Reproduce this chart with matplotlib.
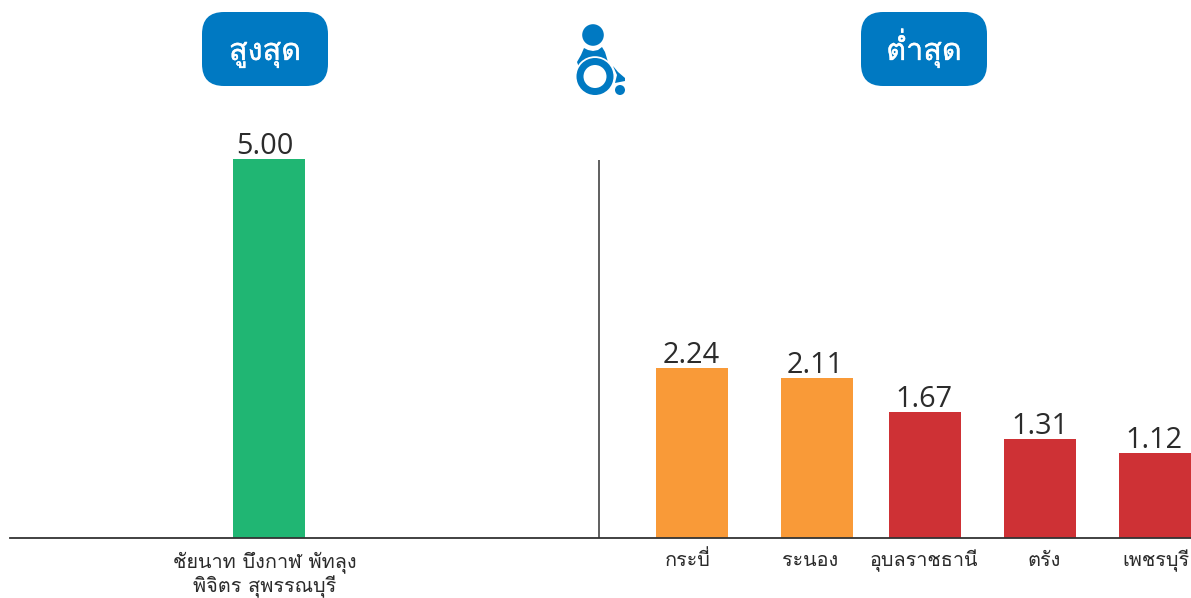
import matplotlib
matplotlib.use("Agg")
from matplotlib import pyplot as plt
from matplotlib import patheffects as pe
from matplotlib.patches import Circle, FancyBboxPatch, Polygon, Wedge

plt.rcParams['font.family'] = ['Loma', 'DejaVu Sans']

# ค่าดัชนีของแต่ละจังหวัด
high_labels = ["ชัยนาท บึงกาฬ พัทลุง\nพิจิตร สุพรรณบุรี"]
high_values = [5.00]
low_labels = ["กระบี่", "ระนอง", "อุบลราชธานี", "ตรัง", "เพชรบุรี"]
low_values = [2.24, 2.11, 1.67, 1.31, 1.12]

GREEN = "#20B673"
ORANGE = "#F99A38"
RED = "#CE3135"
BLUE = "#0079C2"
TEXT = "#2B2B2B"

W, H = 1191, 598
labels = high_labels + low_labels
values = high_values + low_values
colors = [GREEN, ORANGE, ORANGE, RED, RED, RED]
xpos = [269, 692, 817, 925, 1040, 1155]
value_dx = [-4, -1, -2, -1, 0, -1]
label_x = [265, 687.5, 810.5, 924, 1044, 1155.5]

fig = plt.figure(figsize=(W / 100, H / 100), dpi=100)
ax = fig.add_axes([10 / W, (H - 538.4) / H, (W - 10) / W, 379.4 / H])
ax.set_xlim(10, W)
ax.set_ylim(0, 5)
ax.patch.set_alpha(0)

ax.bar(xpos, values, width=72, color=colors, linewidth=0)
for x, v, dx in zip(xpos, values, value_dx):
    # ระยะห่างเป็นพอยต์ 1 พิกเซล = 0.72 พอยต์
    ax.annotate("%.2f" % v, (x, v), xytext=(dx * 0.72, 3.6), textcoords="offset points",
                ha="center", va="baseline", fontsize=20.8, color=TEXT,
                family="Open Sans", annotation_clip=False)

for s in ["top", "right", "left"]:
    ax.spines[s].set_visible(False)
ax.spines["bottom"].set_color("#333333")
ax.spines["bottom"].set_linewidth(1.3)
ax.set_yticks([])
ax.set_xticks([])
ax.vlines(599, 0, 4.99, color="#444444", linewidth=1.2)

# ป้ายหัวข้อ ชื่อจังหวัด และไอคอน วาดด้วยพิกัดพิกเซล
top = fig.add_axes([0, 0, 1, 1])
top.set_xlim(0, W)
top.set_ylim(H, 0)
top.axis("off")
top.patch.set_alpha(0)

for x, label in zip(label_x, labels):
    top.text(x, 566 + 26 * label.count("\n"), label, fontsize=14.3, color=TEXT,
             ha="center", va="baseline", linespacing=1.12)

for x0, title in [(202, "สูงสุด"), (861, "ต่ำสุด")]:
    top.add_patch(FancyBboxPatch((x0 + 22, 34), 126 - 44, 74 - 44,
                                 boxstyle="round,pad=22,rounding_size=22",
                                 facecolor=BLUE, edgecolor="none"))
    top.text(x0 + 63, 60, title, color="white", fontsize=22, ha="center", va="baseline",
             path_effects=[pe.withStroke(linewidth=0.25, foreground="white")])

top.add_patch(Circle((593, 35), 10.8, color=BLUE, lw=0))
top.add_patch(Polygon([(584, 48), (588, 50), (593, 51), (598, 50), (602, 47), (605, 52),
                       (608, 62), (580, 70), (577, 62), (581, 55)],
                      closed=True, color=BLUE, lw=0))
top.add_patch(Circle((595, 76.5), 20.3, color="white", lw=0))
top.add_patch(Wedge((595, 76.5), 18.5, 0, 360, width=7, color=BLUE, lw=0))
top.add_patch(Polygon([(613, 66), (618, 72), (625, 78), (625, 81), (615, 83), (617, 75)],
                      closed=True, color=BLUE, lw=0))
top.add_patch(Circle((620, 90), 5, color=BLUE, lw=0))

fig.savefig("out.png", dpi=100)
